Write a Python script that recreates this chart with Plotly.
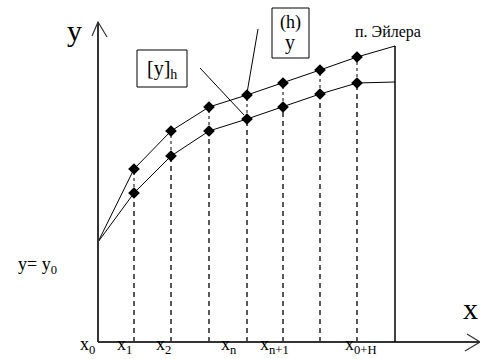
import plotly.graph_objects as go

# ---- data (in chart units: x to the right of the y-axis, y above the x-axis)
x_start = [0]
y_start = [100]
x_nodes = [36, 73, 111, 149, 185, 222, 259]
y_upper = [173, 211, 235, 247, 259, 272, 285]
y_lower = [149, 186, 211, 223, 235, 248, 259]
x_end = 297
y_upper_end = 296
y_lower_end = 260

tick_labels = ["x<sub>0</sub>", "x<sub>1</sub>", "x<sub>2</sub>", "x<sub>n</sub>",
               "x<sub>n+1</sub>", "x<sub>0+H</sub>"]
tick_pos = [-11, 26, 65, 131, 176, 263]

FONT = "Liberation Serif"
BLACK = "#000000"

fig = go.Figure()

# curves
fig.add_trace(go.Scatter(
    x=x_start + x_nodes + [x_end], y=y_start + y_upper + [y_upper_end],
    mode="lines", line=dict(color=BLACK, width=1), hoverinfo="skip"))
fig.add_trace(go.Scatter(
    x=x_start + x_nodes + [x_end], y=y_start + y_lower + [y_lower_end],
    mode="lines", line=dict(color=BLACK, width=1), hoverinfo="skip"))

shapes = []
# dotted between curves, dashed from lower to axis
for xv, yu, yl in zip(x_nodes, y_upper, y_lower):
    shapes.append(dict(type="line", x0=xv, x1=xv, y0=yl, y1=yu,
                       line=dict(color=BLACK, width=1, dash="dot")))
    shapes.append(dict(type="line", x0=xv, x1=xv, y0=0, y1=yl,
                       line=dict(color=BLACK, width=1.3, dash="5px,4px")))

# markers
fig.add_trace(go.Scatter(x=x_nodes, y=y_upper, mode="markers",
                         marker=dict(symbol="diamond", size=9, color=BLACK), hoverinfo="skip"))
fig.add_trace(go.Scatter(x=x_nodes, y=y_lower, mode="markers",
                         marker=dict(symbol="diamond", size=9, color=BLACK), hoverinfo="skip"))

AX = "#333333"
# axes
shapes.append(dict(type="line", x0=0, x1=0, y0=0, y1=320, line=dict(color=AX, width=2)))
shapes.append(dict(type="line", x0=0, x1=382, y0=0, y1=0, line=dict(color=AX, width=2)))
# arrow heads
shapes.append(dict(type="path", path="M -6,306 L 0,320 L 9,305", line=dict(color=AX, width=1.2)))
shapes.append(dict(type="path", path="M 369,8 L 382,0 L 367,-9", line=dict(color=AX, width=1.2)))
# right boundary x0+H
shapes.append(dict(type="line", x0=x_end, x1=x_end, y0=0, y1=y_upper_end,
                   line=dict(color=BLACK, width=1.5)))
# label boxes
shapes.append(dict(type="rect", x0=39, x1=89, y0=255, y1=292, line=dict(color=BLACK, width=1)))
shapes.append(dict(type="rect", x0=174, x1=211, y0=284, y1=334, line=dict(color=BLACK, width=1)))
# pointers
shapes.append(dict(type="line", x0=102, x1=146, y0=274, y1=227, line=dict(color=BLACK, width=1)))
shapes.append(dict(type="line", x0=160, x1=149, y0=313, y1=249, line=dict(color=BLACK, width=1)))

annotations = []
def txt(x, y, t, size, xanchor="center"):
    annotations.append(dict(x=x, y=y, xref="x", yref="y", text=t, showarrow=False,
                            font=dict(family=FONT, size=size, color=BLACK),
                            xanchor=xanchor, yanchor="middle"))

for p, t in zip(tick_pos, tick_labels):
    txt(p, -3, t, 18)

txt(-24, 312, "y", 30)
txt(372, 34, "x", 30)
txt(-61, 77, "y= y<sub>0</sub>", 18)
txt(64, 273, "[y]<sub>h</sub>", 20)
txt(192, 320, "(h)", 18)
txt(192, 300, "y", 20)
txt(290, 310, "п. Эйлера", 16)

fig.update_layout(
    width=480, height=359, margin=dict(l=0, r=0, t=0, b=0),
    paper_bgcolor="white", plot_bgcolor="white", showlegend=False,
    font=dict(family=FONT),
    xaxis=dict(range=[-98, 382], visible=False, fixedrange=True),
    yaxis=dict(range=[-17, 342], visible=False, fixedrange=True),
    shapes=shapes, annotations=annotations,
)

fig.write_html("out.html", config={"staticPlot": True},
               post_script="document.body.style.margin='0';document.body.style.overflow='hidden';")
